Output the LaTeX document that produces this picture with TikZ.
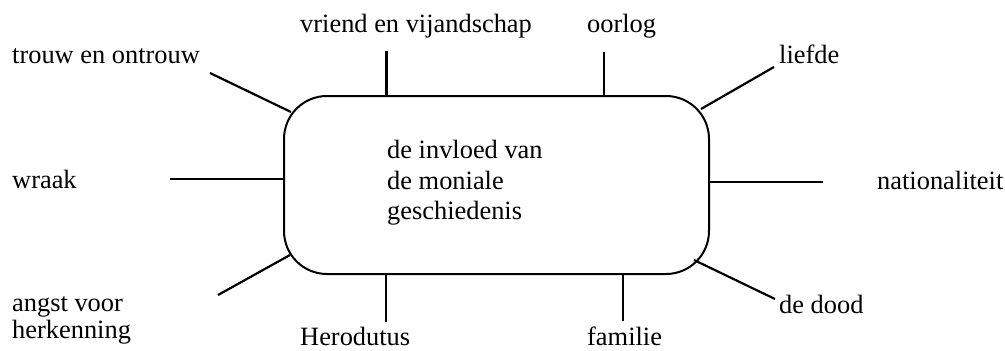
\documentclass[tikz,border=0pt]{standalone}
\usepackage{fontspec}
\setmainfont{Liberation Serif}
\usetikzlibrary{calc}
\begin{document}
\begin{tikzpicture}[x=1pt,y=-1pt,
  lbl/.style={inner sep=0pt, anchor=base west, font=\fontsize{26.4}{26.5}\selectfont},
  straightline/.style={line width=2.8pt},
  diagline/.style={line width=2.2pt},
  bigbox/.style={draw, line width=2pt, rounded corners=43pt, minimum width=425pt, minimum height=178pt, inner sep=0pt}]
\useasboundingbox (0,0) rectangle (1005,351);
\node[bigbox] (box) at (496.5,185) {};
\node[inner sep=0pt, anchor=north west, align=left, font=\fontsize{26.4}{30.5}\selectfont] (ctext) at (387,140) {de invloed van\\de moniale\\geschiedenis};
% labels
\node[lbl] (trouw) at (12,63) {trouw en ontrouw};
\node[lbl] (vriend) at (300,32) {vriend en vijandschap};
\node[lbl] (oorlog) at (587,32) {oorlog};
\node[lbl] (liefde) at (779,63) {liefde};
\node[lbl] (wraak) at (12,188) {wraak};
\node[lbl] (nat) at (877,189) {nationaliteit};
\node[lbl, align=left] (angst) at (12,338) {angst voor\\herkenning};
\node[lbl] (hero) at (300,345) {Herodutus};
\node[lbl] (fam) at (587,345) {familie};
\node[lbl] (dood) at (779,313) {de dood};
% free ends
\coordinate (cTrouw) at (210,73);
\coordinate (cVriend) at (386.7,51);
\coordinate (cOorlog) at (604,52);
\coordinate (cLiefde) at (774,67);
\coordinate (cWraak) at (170,179);
\coordinate (cNat) at (823,182);
\coordinate (cAngst) at (218,295);
\coordinate (cHero) at (386,322);
\coordinate (cFam) at (623,321);
\coordinate (cDood) at (775,299);
% connectors
\draw[diagline] (cTrouw) -- ($(box.north west)+(8,17)$);
\draw[straightline] (cVriend) -- (cVriend |- box.north);
\draw[straightline] (cOorlog) -- (cOorlog |- box.north);
\draw[diagline] (cLiefde) -- ($(box.north east)+(-9,14)$);
\draw[straightline] (cWraak) -- (cWraak -| box.west);
\draw[straightline] (cNat) -- (cNat -| box.east);
\draw[diagline] (cAngst) -- ($(box.south west)+(7,-20)$);
\draw[straightline] (cHero) -- (cHero |- box.south);
\draw[straightline] (cFam) -- (cFam |- box.south);
\draw[diagline] (cDood) -- ($(box.south east)+(-16,-15)$);
\end{tikzpicture}
\end{document}
